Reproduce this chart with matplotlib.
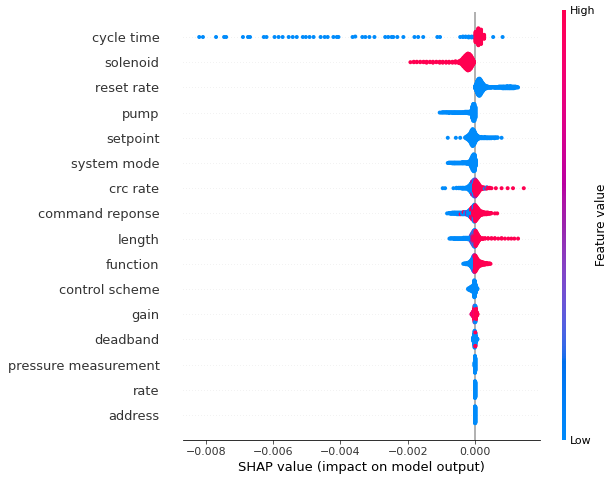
import numpy as np
import matplotlib
matplotlib.use('Agg')
import matplotlib.pyplot as plt
import matplotlib.cm as cm
from matplotlib.colors import LinearSegmentedColormap

# features from top to bottom
features = ['cycle time', 'solenoid', 'reset rate', 'pump', 'setpoint',
            'system mode', 'crc rate', 'command reponse', 'length', 'function',
            'control scheme', 'gain', 'deadband', 'pressure measurement',
            'rate', 'address']

# each entry: (SHAP value in units of 1e-3, number of samples, feature value 0=low .. 1=high)
cycle_time = [(-8.20, 1, 0), (-8.09, 1, 0), (-7.70, 1, 0), (-7.46, 1, 0), (-7.40, 1, 0),
              (-6.90, 1, 0), (-6.75, 1, 0), (-6.69, 1, 0), (-6.28, 1, 0), (-6.20, 1, 0),
              (-5.96, 1, 0), (-5.84, 1, 0), (-5.72, 1, 0), (-5.54, 1, 0), (-5.42, 1, 0),
              (-5.30, 1, 0), (-5.12, 1, 0), (-5.03, 1, 0), (-4.92, 1, 0), (-4.80, 1, 0),
              (-4.59, 1, 0), (-4.47, 1, 0), (-4.38, 1, 0), (-4.21, 1, 0), (-4.11, 1, 0),
              (-4.06, 1, 0), (-3.64, 1, 0), (-3.56, 1, 0), (-3.35, 1, 0), (-3.26, 1, 0),
              (-3.14, 1, 0), (-2.99, 1, 0), (-2.67, 1, 0), (-2.58, 1, 0), (-2.48, 1, 0),
              (-2.43, 1, 0), (-2.31, 1, 0), (-2.13, 1, 0), (-1.80, 1, 0), (-1.69, 1, 0),
              (-1.54, 1, 0), (-1.12, 1, 0), (-1.04, 1, 0), (-0.44, 1, 0), (-0.36, 2, 0),
              (-0.28, 2, 0), (-0.19, 3, 0), (-0.10, 3, 0), (-0.03, 3, 0),
              (0.02, 22, 1), (0.10, 40, 1), (0.18, 34, 1), (0.27, 10, 1),
              (0.54, 1, 0), (0.82, 1, 0)]
solenoid = [(-1.92, 1, 1), (-1.82, 2, 1), (-1.73, 2, 1), (-1.63, 2, 1), (-1.53, 2, 1),
            (-1.44, 3, 1), (-1.34, 2, 1), (-1.25, 3, 1), (-1.15, 2, 1), (-1.05, 3, 1),
            (-0.96, 3, 1), (-0.86, 3, 1), (-0.77, 3, 1), (-0.67, 3, 1), (-0.58, 4, 1),
            (-0.48, 5, 1), (-0.43, 8, 1), (-0.38, 14, 1), (-0.34, 22, 1), (-0.29, 30, 1),
            (-0.25, 36, 1), (-0.21, 40, 1), (-0.17, 38, 1), (-0.13, 32, 1), (-0.10, 24, 1),
            (-0.06, 14, 1), (-0.03, 5, 1)]
reset_rate = [(0.00, 6, 0), (0.03, 16, 0), (0.06, 28, 0), (0.09, 36, 0), (0.115, 40, 0),
              (0.14, 40, 0), (0.17, 34, 0), (0.20, 26, 0), (0.24, 18, 0), (0.29, 10, 0),
              (0.34, 6, 0), (0.38, 4, 0), (0.43, 3, 0), (0.48, 3, 0), (0.53, 2, 0),
              (0.58, 3, 0), (0.62, 3, 0), (0.67, 3, 0), (0.72, 4, 0), (0.77, 4, 0),
              (0.82, 5, 0), (0.86, 5, 0), (0.91, 5, 0), (0.96, 6, 0), (1.01, 5, 0),
              (1.05, 6, 0), (1.10, 5, 0), (1.15, 5, 0), (1.20, 4, 0), (1.25, 2, 0),
              (1.28, 1, 0)]
pump = [(-1.05, 1, 0), (-1.00, 1, 0), (-0.96, 2, 0), (-0.91, 2, 0), (-0.86, 2, 0),
        (-0.82, 2, 0), (-0.77, 3, 0), (-0.72, 2, 0), (-0.67, 3, 0), (-0.62, 3, 0),
        (-0.58, 3, 0), (-0.53, 3, 0), (-0.48, 3, 0), (-0.43, 3, 0), (-0.38, 3, 0),
        (-0.34, 3, 0), (-0.29, 4, 0), (-0.24, 4, 0), (-0.19, 5, 0), (-0.15, 5, 0),
        (-0.12, 8, 0), (-0.08, 28, 0), (-0.05, 40, 0), (-0.02, 40, 0), (0.01, 26, 0)]
setpoint = [(-0.81, 1, 0), (-0.57, 1, 0), (-0.44, 1, 0), (-0.29, 2, 0), (-0.25, 6, 0),
            (-0.21, 10, 0), (-0.17, 16, 0), (-0.13, 24, 0), (-0.10, 34, 0), (-0.07, 40, 0),
            (-0.04, 36, 0), (-0.01, 28, 0), (0.02, 18, 0), (0.05, 12, 0), (0.08, 8, 0),
            (0.10, 6, 0), (0.14, 4, 0), (0.19, 4, 0), (0.24, 3, 0), (0.29, 4, 0),
            (0.34, 3, 0), (0.38, 3, 0), (0.43, 3, 0), (0.48, 3, 0), (0.53, 2, 0),
            (0.58, 3, 0), (0.62, 2, 0), (0.67, 2, 0), (0.79, 1, 0)]
system_mode = [(-0.81, 1, 0), (-0.77, 2, 0), (-0.72, 2, 0), (-0.67, 3, 0), (-0.62, 3, 0),
               (-0.58, 3, 0), (-0.53, 3, 0), (-0.48, 3, 0), (-0.43, 3, 0), (-0.38, 4, 0),
               (-0.34, 4, 0), (-0.29, 4, 0), (-0.24, 5, 0), (-0.19, 6, 0), (-0.15, 10, 0),
               (-0.12, 16, 0), (-0.10, 24, 0), (-0.07, 34, 0), (-0.04, 40, 0),
               (-0.01, 38, 0), (0.02, 16, 0)]
crc_rate = [(-0.96, 1, 0), (-0.89, 1, 0), (-0.64, 1, 0), (-0.55, 2, 0), (-0.48, 2, 0),
            (-0.43, 2, 0), (-0.38, 3, 0), (-0.34, 3, 0), (-0.29, 3, 0), (-0.25, 4, 0),
            (-0.20, 8, 0), (-0.16, 14, 0), (-0.12, 22, 0), (-0.09, 26, 0), (-0.09, 4, 0.5),
            (-0.05, 28, 0), (-0.05, 8, 0.5), (-0.02, 24, 1), (-0.02, 16, 0),
            (0.01, 34, 1), (0.01, 6, 0.5), (0.04, 34, 1), (0.07, 28, 1), (0.10, 22, 1),
            (0.13, 14, 1), (0.17, 8, 1), (0.21, 5, 1), (0.25, 4, 1), (0.29, 2, 1),
            (0.29, 1, 0), (0.34, 3, 1), (0.35, 1, 0), (0.38, 2, 1), (0.44, 2, 1),
            (0.49, 1, 1), (0.62, 1, 1), (0.79, 1, 1), (0.97, 1, 1), (1.13, 1, 1),
            (1.45, 1, 1)]
command_reponse = [(-0.83, 1, 0), (-0.77, 2, 0), (-0.72, 3, 0), (-0.67, 4, 0), (-0.62, 4, 0),
                   (-0.58, 4, 0), (-0.53, 5, 0), (-0.48, 5, 0), (-0.43, 4, 0), (-0.43, 1, 1),
                   (-0.38, 5, 0), (-0.34, 5, 0), (-0.34, 1, 1), (-0.29, 6, 0), (-0.24, 5, 0),
                   (-0.24, 2, 0.5), (-0.20, 10, 0), (-0.16, 16, 0), (-0.12, 14, 0),
                   (-0.12, 8, 1), (-0.09, 14, 0), (-0.09, 14, 1), (-0.05, 16, 1),
                   (-0.05, 18, 0.5), (-0.02, 22, 1), (-0.02, 18, 0), (0.01, 38, 1),
                   (0.04, 32, 1), (0.07, 26, 1), (0.10, 20, 1), (0.13, 14, 1), (0.17, 10, 1),
                   (0.21, 8, 1), (0.25, 6, 1), (0.29, 5, 1), (0.34, 5, 1), (0.38, 4, 1),
                   (0.43, 3, 1), (0.48, 2, 1), (0.59, 1, 1), (0.66, 1, 1)]
length = [(-0.76, 1, 0), (-0.72, 2, 0), (-0.67, 2, 0), (-0.62, 3, 0), (-0.58, 3, 0),
          (-0.53, 3, 0), (-0.48, 3, 0), (-0.43, 3, 0), (-0.38, 3, 0), (-0.34, 4, 0),
          (-0.29, 4, 0), (-0.24, 4, 0), (-0.19, 5, 0), (-0.15, 6, 0), (-0.12, 12, 0),
          (-0.10, 14, 0), (-0.10, 6, 0.5), (-0.07, 16, 0.5), (-0.07, 12, 0),
          (-0.04, 18, 1), (-0.04, 18, 0.4), (-0.01, 22, 1), (-0.01, 18, 0),
          (0.02, 36, 1), (0.05, 28, 1), (0.08, 20, 1), (0.11, 12, 1), (0.13, 8, 1),
          (0.17, 3, 1), (0.23, 3, 1), (0.30, 2, 1), (0.39, 2, 1), (0.49, 2, 1),
          (0.59, 2, 1), (0.69, 1, 1), (0.79, 2, 1), (0.89, 1, 1), (0.99, 1, 1),
          (1.08, 1, 1), (1.17, 1, 1), (1.28, 1, 1)]
function = [(-0.35, 1, 0), (-0.31, 2, 0), (-0.27, 3, 0), (-0.23, 4, 0), (-0.19, 6, 0),
            (-0.15, 10, 0), (-0.115, 16, 0), (-0.08, 24, 0), (-0.05, 34, 0),
            (-0.02, 30, 0), (-0.02, 10, 0.5), (0.01, 38, 1), (0.04, 30, 1), (0.07, 22, 1),
            (0.10, 16, 1), (0.13, 12, 1), (0.17, 10, 1), (0.21, 8, 1), (0.25, 6, 1),
            (0.29, 5, 1), (0.34, 4, 1), (0.38, 3, 1), (0.43, 2, 1), (0.46, 1, 1)]
control_scheme = [(-0.20, 3, 0), (-0.17, 5, 0), (-0.14, 7, 0), (-0.12, 10, 0), (-0.09, 12, 0),
                  (-0.06, 14, 0), (-0.04, 20, 0), (-0.02, 40, 0), (0.00, 36, 0),
                  (0.02, 20, 0), (0.05, 6, 0), (0.07, 2, 0)]
gain = [(-0.10, 3, 0.8), (-0.07, 8, 1), (-0.05, 14, 0.8), (-0.03, 24, 1), (-0.01, 36, 1),
        (-0.01, 4, 0.3), (0.01, 34, 0.9), (0.01, 4, 0), (0.03, 24, 1), (0.05, 10, 1),
        (0.07, 3, 1)]
deadband = [(-0.05, 10, 0), (-0.03, 24, 0), (-0.01, 40, 0), (0.01, 30, 0), (0.01, 3, 1),
            (0.03, 14, 0), (0.05, 6, 0), (0.07, 2, 0)]
pressure_measurement = [(-0.01, 10, 0), (0.00, 40, 0), (0.01, 30, 0)]
rate = [(0.00, 40, 0), (0.01, 36, 0)]
address = [(0.00, 40, 0), (0.01, 38, 0)]

rows = [cycle_time, solenoid, reset_rate, pump, setpoint, system_mode, crc_rate,
        command_reponse, length, function, control_scheme, gain, deadband,
        pressure_measurement, rate, address]


def lch_to_rgb(l, c, h):
    a, b = c * np.cos(h), c * np.sin(h)
    fy = (l + 16) / 116
    f = np.array([fy + a / 500, fy, fy - b / 200])
    xyz = np.where(f > 6 / 29, f ** 3, 3 * (6 / 29) ** 2 * (f - 4 / 29))
    xyz = xyz * np.array([0.95047, 1.0, 1.08883])
    m = np.array([[3.2406, -1.5372, -0.4986],
                  [-0.9689, 1.8758, 0.0415],
                  [0.0557, -0.2040, 1.0570]])
    rgb = m @ xyz
    rgb = np.where(rgb > 0.0031308, 1.055 * np.abs(rgb) ** (1 / 2.4) - 0.055, 12.92 * rgb)
    return np.clip(rgb, 0, 1)


# shap-like red_blue colormap, blended in LCH space
nsteps = 100
l_vals = list(np.linspace(54., 40., nsteps // 2)) + list(np.linspace(40., 54., nsteps // 2))
c_vals = np.linspace(70., 90., nsteps)
h_vals = np.linspace(4.6588, 0.35470565 + 2 * np.pi, nsteps)
stops = [(p, lch_to_rgb(l, c, h)) for p, l, c, h in
         zip(np.linspace(0, 1, nsteps), l_vals, c_vals, h_vals)]
red_blue = LinearSegmentedColormap.from_list('red_blue', stops)


def swarm(shaps, row_height=0.4, nbins=100):
    # stack points that share a bin, alternating up and down
    quant = np.round(nbins * (shaps - shaps.min()) / (shaps.max() - shaps.min() + 1e-8))
    inds = np.argsort(quant, kind='stable')
    ys = np.zeros(len(shaps))
    layer = 0
    last_bin = -1
    for ind in inds:
        if quant[ind] != last_bin:
            layer = 0
        ys[ind] = np.ceil(layer / 2) * ((layer % 2) * 2 - 1)
        layer += 1
        last_bin = quant[ind]
    ys *= 0.9 * (row_height / np.max(ys + 1))
    return ys


axis_color = '#333333'
fig = plt.figure(figsize=(615 / 72, 481 / 72), dpi=72)
ax = fig.add_axes([183 / 615, 1 - 440.2 / 481, 357 / 615, 428.4 / 481])

ax.axvline(x=0, color='#999999', zorder=-1)
names = features[::-1]
for pos, entries in enumerate(rows[::-1]):
    vals = np.repeat([e[0] for e in entries], [e[1] for e in entries]) * 1e-3
    cols = np.repeat([e[2] for e in entries], [e[1] for e in entries])
    ys = swarm(vals)
    ax.axhline(y=pos, color='#cccccc', lw=0.5, dashes=(1, 5), zorder=-1)
    ax.scatter(vals, pos + ys, c=cols, cmap=red_blue, vmin=0, vmax=1, s=16,
               alpha=1, linewidth=0, zorder=3, rasterized=True)

ax.xaxis.set_ticks_position('bottom')
ax.yaxis.set_ticks_position('none')
ax.spines['right'].set_visible(False)
ax.spines['top'].set_visible(False)
ax.spines['left'].set_visible(False)
ax.tick_params(color=axis_color, labelcolor=axis_color)
ax.set_yticks(range(len(names)))
ax.set_yticklabels(names, fontsize=13)
ax.tick_params('y', length=20, width=0.5, which='major')
ax.tick_params('x', labelsize=11)
ax.set_ylim(-1, len(names))
ax.set_xlabel('SHAP value (impact on model output)', fontsize=13)

cax = fig.add_axes([562 / 615, 1 - 440 / 481, 4 / 615, 430 / 481])
m = cm.ScalarMappable(cmap=red_blue)
m.set_array([0, 1])
cb = fig.colorbar(m, cax=cax, ticks=[0, 1])
cb.set_ticklabels(['Low', 'High'])
cb.set_label('Feature value', size=12, labelpad=0)
cb.ax.tick_params(labelsize=11, length=0)
cb.outline.set_visible(False)

fig.savefig('out.png', dpi=72)
